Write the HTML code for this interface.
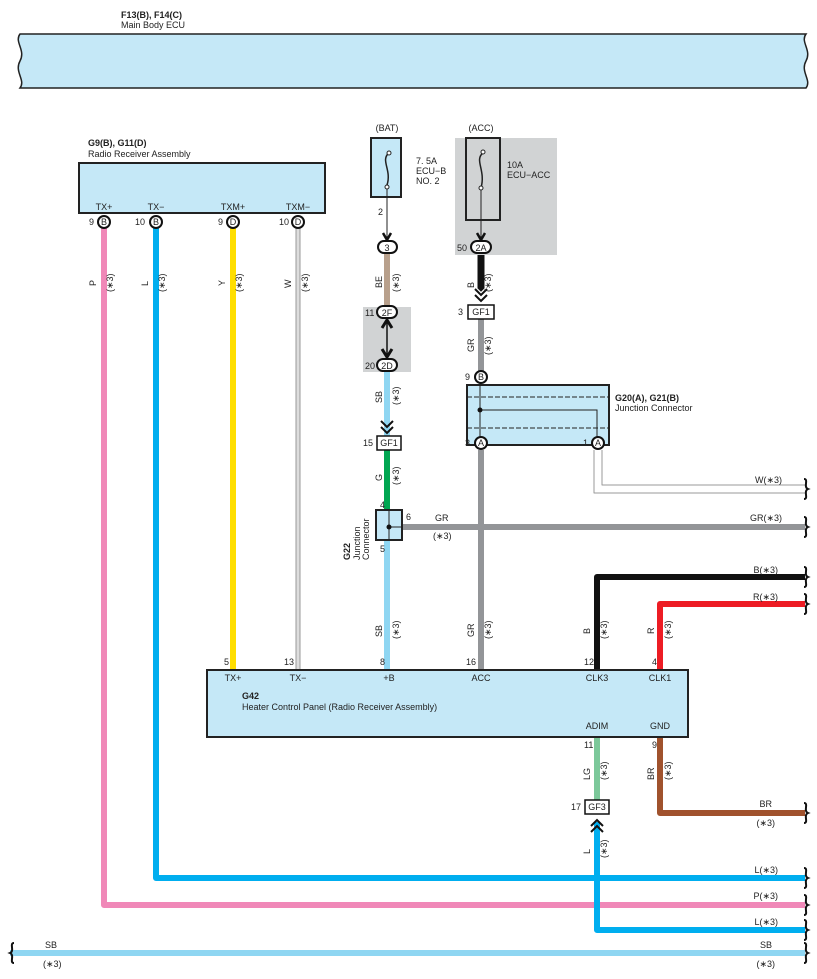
<!DOCTYPE html>
<html><head><meta charset="utf-8"><style>
html,body{margin:0;padding:0;background:#fff}
svg{display:block;font-family:"Liberation Sans",sans-serif}
text{font-size:9px;fill:#222}
.b{font-weight:bold}
</style></head><body>
<svg width="817" height="979" viewBox="0 0 817 979" xmlns="http://www.w3.org/2000/svg">
<defs>
<g id="br"><path d="M0,-10 C5,-10 -1,-2 4,0 C-1,2 5,10 0,10" fill="none" stroke="#111" stroke-width="2"/></g>
</defs>
<!-- Main body ECU bus -->
<path d="M20,34 H806 C800,42 812,50 806,61 C800,72 812,80 806,88 H20 C26,80 14,72 20,61 C26,50 14,42 20,34 Z" fill="#c5e8f7" stroke="#222" stroke-width="1.5"/>
<text x="121" y="18" class="b">F13(B), F14(C)</text>
<text x="121" y="28">Main Body ECU</text>

<!-- Wires behind -->
<g fill="none" stroke-linejoin="round">
<path d="M104,228 V905 H805" stroke="#f088b8" stroke-width="6"/>
<path d="M156,228 V878 H805" stroke="#00aeef" stroke-width="6"/>
<path d="M233,228 V670" stroke="#ffde00" stroke-width="6"/>
<path d="M296,228 V670 M300,228 V670" stroke="#999" stroke-width="1"/>
<path d="M298,228 V670" stroke="#ddd" stroke-width="3"/>
<path d="M387,254 V308" stroke="#b8a08c" stroke-width="6"/>
<path d="M387,370 V436" stroke="#8fd6f2" stroke-width="6"/>
<path d="M387,450 V510" stroke="#00a651" stroke-width="6"/>
<path d="M387,540 V670" stroke="#8fd6f2" stroke-width="6"/>
<path d="M481,254 V300" stroke="#111" stroke-width="7"/>
<path d="M481,319 V372" stroke="#939598" stroke-width="6"/>
<path d="M481,450 V670" stroke="#939598" stroke-width="6"/>
<path d="M402,527 H805" stroke="#939598" stroke-width="6"/>
<path d="M594,450 V493 H805 M602,450 V485 H805" stroke="#999" stroke-width="1"/>
<path d="M597,670 V577 H805" stroke="#111" stroke-width="6"/>
<path d="M660,670 V604 H805" stroke="#ed1c24" stroke-width="6"/>
<path d="M597,737 V800" stroke="#7cc89a" stroke-width="6"/>
<path d="M597,822 V930 H805" stroke="#00aeef" stroke-width="6"/>
<path d="M660,737 V813 H805" stroke="#a0522d" stroke-width="6"/>
<path d="M10,953 H805" stroke="#8fd6f2" stroke-width="6"/>
</g>
<!-- braces -->
<use href="#br" x="804" y="489"/><use href="#br" x="804" y="527"/><use href="#br" x="804" y="577"/>
<use href="#br" x="804" y="604"/><use href="#br" x="804" y="813"/><use href="#br" x="804" y="878"/>
<use href="#br" x="804" y="905"/><use href="#br" x="804" y="930"/><use href="#br" x="804" y="953"/>
<path d="M14,943 C9,943 15,951 10,953 C15,955 9,963 14,963" fill="none" stroke="#111" stroke-width="2"/>

<!-- Radio receiver -->
<text x="88" y="146" class="b">G9(B), G11(D)</text>
<text x="88" y="157">Radio Receiver Assembly</text>
<rect x="79" y="163" width="246" height="50" fill="#c5e8f7" stroke="#222" stroke-width="2"/>
<text x="104" y="210" text-anchor="middle">TX+</text><text x="156" y="210" text-anchor="middle">TX−</text>
<text x="233" y="210" text-anchor="middle">TXM+</text><text x="298" y="210" text-anchor="middle">TXM−</text>
<g fill="#fff" stroke="#111" stroke-width="2">
<circle cx="104" cy="222" r="6"/><circle cx="156" cy="222" r="6"/><circle cx="233" cy="222" r="6"/><circle cx="298" cy="222" r="6"/>
</g>
<g text-anchor="middle" style="font-size:8px"><text x="104" y="225">B</text><text x="156" y="225">B</text><text x="233" y="225">D</text><text x="298" y="225">D</text></g>
<text x="89" y="225">9</text><text x="135" y="225">10</text><text x="218" y="225">9</text><text x="279" y="225">10</text>

<!-- Fuses -->
<text x="387" y="131" text-anchor="middle">(BAT)</text>
<text x="481" y="131" text-anchor="middle">(ACC)</text>
<rect x="455" y="138" width="102" height="117" fill="#d1d3d4"/>
<rect x="371" y="138" width="30" height="59" fill="#c5e8f7" stroke="#222" stroke-width="2"/>
<rect x="466" y="138" width="34" height="82" fill="#d1d3d4" stroke="#222" stroke-width="2"/>
<path d="M389,153 C380,160 392,170 387,185" fill="none" stroke="#222" stroke-width="1.5"/>
<path d="M483,153 C474,160 486,170 481,188" fill="none" stroke="#222" stroke-width="1.5"/>
<circle cx="389" cy="153" r="2" fill="#fff" stroke="#222"/><circle cx="387" cy="187" r="2" fill="#fff" stroke="#222"/>
<circle cx="483" cy="152" r="2" fill="#fff" stroke="#222"/><circle cx="481" cy="188" r="2" fill="#fff" stroke="#222"/>
<path d="M387,189 V240 M481,190 V240" stroke="#222" stroke-width="1"/>
<path d="M383,233 L387,240 L391,233 M477,233 L481,240 L485,233" fill="none" stroke="#111" stroke-width="2.5"/>
<text x="416" y="164">7. 5A</text><text x="416" y="174">ECU−B</text><text x="416" y="184">NO. 2</text>
<text x="507" y="168">10A</text><text x="507" y="178">ECU−ACC</text>
<text x="378" y="215">2</text>

<rect x="363" y="307" width="48" height="65" fill="#d1d3d4"/>
<g fill="#fff" stroke="#111" stroke-width="2">
<rect x="378" y="241" width="19" height="12" rx="6"/>
<rect x="471" y="241" width="20" height="12" rx="6"/>
<rect x="377" y="306" width="20" height="12" rx="6"/>
<rect x="377" y="359" width="20" height="12" rx="6"/>
</g>
<g text-anchor="middle"><text x="387" y="251">3</text><text x="481" y="251">2A</text><text x="387" y="316">2F</text><text x="387" y="369">2D</text></g>
<text x="457" y="251">50</text><text x="365" y="316">11</text><text x="365" y="369">20</text>
<path d="M387,320 V357" stroke="#111" stroke-width="1.5"/>
<path d="M382,328 L387,320 L392,328 M382,349 L387,357 L392,349" fill="none" stroke="#111" stroke-width="3"/>
<!-- chevrons -->
<path d="M381,421 L387,427 L393,421 M381,427 L387,433 L393,427" fill="none" stroke="#111" stroke-width="2"/>
<path d="M475,289 L481,295 L487,289 M475,295 L481,301 L487,295" fill="none" stroke="#fff" stroke-width="4.5"/>
<path d="M475,289 L481,295 L487,289 M475,295 L481,301 L487,295" fill="none" stroke="#111" stroke-width="2"/>
<path d="M591,826 L597,820 L603,826 M591,832 L597,826 L603,832" fill="none" stroke="#111" stroke-width="2"/>
<!-- GF boxes -->
<g fill="#fff" stroke="#111" stroke-width="1.5">
<rect x="377" y="436" width="24" height="14"/><rect x="468" y="305" width="26" height="14"/><rect x="585" y="800" width="24" height="14"/>
</g>
<g text-anchor="middle"><text x="389" y="446">GF1</text><text x="481" y="315">GF1</text><text x="597" y="810">GF3</text></g>
<text x="363" y="446">15</text><text x="458" y="315">3</text><text x="571" y="810">17</text>

<!-- G20 junction -->
<rect x="467" y="385" width="142" height="60" fill="#c5e8f7" stroke="#222" stroke-width="2"/>
<path d="M467,397 H609 M467,428 H609" stroke="#222" stroke-dasharray="5,2" stroke-width="1"/>
<path d="M480,378 V443 M480,410 H597 V443" fill="none" stroke="#222" stroke-width="1"/>
<circle cx="480" cy="410" r="2.5" fill="#111"/>
<g fill="#fff" stroke="#111" stroke-width="2"><circle cx="481" cy="377" r="6"/><circle cx="481" cy="443" r="6"/><circle cx="598" cy="443" r="6"/></g>
<g text-anchor="middle" style="font-size:8px"><text x="481" y="380">B</text><text x="481" y="446">A</text><text x="598" y="446">A</text></g>
<text x="465" y="380">9</text><text x="465" y="446">3</text><text x="583" y="446">1</text>
<text x="615" y="401" class="b">G20(A), G21(B)</text><text x="615" y="411">Junction Connector</text>

<!-- G22 -->
<rect x="376" y="510" width="26" height="30" fill="#c5e8f7" stroke="#222" stroke-width="2"/>
<path d="M389,510 V540 M389,527 H402" stroke="#222"/>
<circle cx="389" cy="527" r="2.5" fill="#111"/>
<text x="380" y="508">4</text><text x="380" y="552">5</text><text x="406" y="520">6</text>
<g transform="translate(350,560) rotate(-90)"><text class="b">G22</text></g>
<g transform="translate(360,560) rotate(-90)"><text>Junction</text></g>
<g transform="translate(369,560) rotate(-90)"><text>Connector</text></g>
<text x="435" y="521">GR</text><text x="433" y="539">(∗3)</text>

<!-- right labels -->
<g text-anchor="end">
<text x="782" y="483">W(∗3)</text><text x="782" y="521">GR(∗3)</text><text x="778" y="573">B(∗3)</text>
<text x="778" y="600">R(∗3)</text><text x="772" y="807">BR</text><text x="775" y="826">(∗3)</text>
<text x="778" y="873">L(∗3)</text><text x="778" y="899">P(∗3)</text><text x="778" y="925">L(∗3)</text>
<text x="772" y="948">SB</text><text x="775" y="967">(∗3)</text>
</g>
<text x="45" y="948">SB</text><text x="43" y="967">(∗3)</text>

<!-- G42 -->
<rect x="207" y="670" width="481" height="67" fill="#c5e8f7" stroke="#222" stroke-width="2"/>
<g text-anchor="middle">
<text x="233" y="681">TX+</text><text x="298" y="681">TX−</text><text x="389" y="681">+B</text><text x="481" y="681">ACC</text>
<text x="597" y="681">CLK3</text><text x="660" y="681">CLK1</text><text x="597" y="729">ADIM</text><text x="660" y="729">GND</text>
</g>
<text x="242" y="699" class="b">G42</text><text x="242" y="710">Heater Control Panel (Radio Receiver Assembly)</text>
<text x="224" y="665">5</text><text x="284" y="665">13</text><text x="380" y="665">8</text><text x="466" y="665">16</text>
<text x="584" y="665">12</text><text x="652" y="665">4</text><text x="584" y="748">11</text><text x="652" y="748">9</text>

<!-- rotated wire labels -->
<g style="font-size:9px">
<g transform="translate(96,286) rotate(-90)"><text>P</text></g><g transform="translate(113,292) rotate(-90)"><text>(∗3)</text></g>
<g transform="translate(148,286) rotate(-90)"><text>L</text></g><g transform="translate(165,292) rotate(-90)"><text>(∗3)</text></g>
<g transform="translate(225,286) rotate(-90)"><text>Y</text></g><g transform="translate(242,292) rotate(-90)"><text>(∗3)</text></g>
<g transform="translate(291,288) rotate(-90)"><text>W</text></g><g transform="translate(308,292) rotate(-90)"><text>(∗3)</text></g>
<g transform="translate(382,288) rotate(-90)"><text>BE</text></g><g transform="translate(399,292) rotate(-90)"><text>(∗3)</text></g>
<g transform="translate(474,288) rotate(-90)"><text>B</text></g><g transform="translate(491,292) rotate(-90)"><text>(∗3)</text></g>
<g transform="translate(474,352) rotate(-90)"><text>GR</text></g><g transform="translate(491,355) rotate(-90)"><text>(∗3)</text></g>
<g transform="translate(382,403) rotate(-90)"><text>SB</text></g><g transform="translate(399,405) rotate(-90)"><text>(∗3)</text></g>
<g transform="translate(382,481) rotate(-90)"><text>G</text></g><g transform="translate(399,485) rotate(-90)"><text>(∗3)</text></g>
<g transform="translate(382,637) rotate(-90)"><text>SB</text></g><g transform="translate(399,639) rotate(-90)"><text>(∗3)</text></g>
<g transform="translate(474,637) rotate(-90)"><text>GR</text></g><g transform="translate(491,639) rotate(-90)"><text>(∗3)</text></g>
<g transform="translate(590,634) rotate(-90)"><text>B</text></g><g transform="translate(607,639) rotate(-90)"><text>(∗3)</text></g>
<g transform="translate(654,634) rotate(-90)"><text>R</text></g><g transform="translate(671,639) rotate(-90)"><text>(∗3)</text></g>
<g transform="translate(590,780) rotate(-90)"><text>LG</text></g><g transform="translate(607,780) rotate(-90)"><text>(∗3)</text></g>
<g transform="translate(654,780) rotate(-90)"><text>BR</text></g><g transform="translate(671,780) rotate(-90)"><text>(∗3)</text></g>
<g transform="translate(590,854) rotate(-90)"><text>L</text></g><g transform="translate(607,858) rotate(-90)"><text>(∗3)</text></g>
</g>
</svg>
</body></html>
